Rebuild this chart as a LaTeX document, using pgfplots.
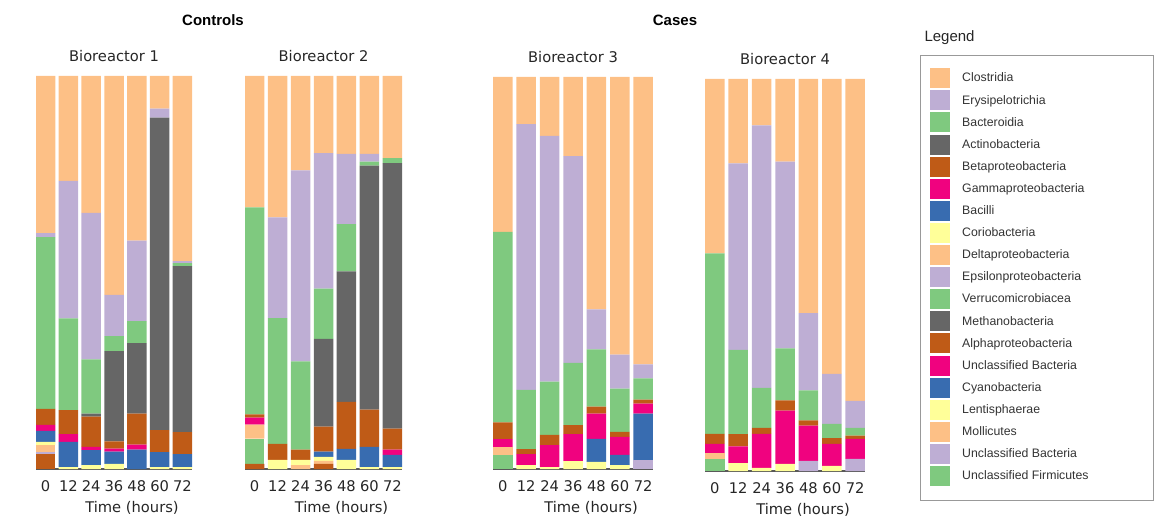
\documentclass[border=0pt]{standalone}
\usepackage{pgfplots}
\pgfplotsset{compat=1.18}
\usepackage{pgfplotstable}
\usepackage{fontspec}
\setmainfont{DejaVu Sans}
\newfontfamily\arialfont{Liberation Sans}

\definecolor{cGreen}{HTML}{7FC97F}
\definecolor{cPurple}{HTML}{BEAED4}
\definecolor{cOrange}{HTML}{FDC086}
\definecolor{cYellow}{HTML}{FFFF99}
\definecolor{cBlue}{HTML}{386CB0}
\definecolor{cMagenta}{HTML}{F0027F}
\definecolor{cBrown}{HTML}{BF5B17}
\definecolor{cGrey}{HTML}{666666}

\pgfplotscreateplotcyclelist{accentlist}{
{fill=cGreen,draw=none},{fill=cPurple,draw=none},{fill=cOrange,draw=none},{fill=cYellow,draw=none},
{fill=cBlue,draw=none},{fill=cMagenta,draw=none},{fill=cBrown,draw=none},{fill=cGrey,draw=none}}

% relative abundance (%) per time point, stacked bottom-up
\pgfplotstableread{
x UF UB Mol Len Cya Unc Alp Met Ver Eps Del Cor Bac Gam Bet Act Bct Ery Clo
0 0 0 0 0 0 0 3.8 0 0 0.5 1.8 0.8 2.8 1.5 4.1 0 43.7 1.0 40.0
1 0 0 0 0 0 0 0 0 0 0 0 0.5 6.4 2.0 6.1 0 23.3 35.0 26.7
2 0 0 0 0 0 0 0 0 0 0 0 1.0 3.8 0.8 7.7 0.8 13.8 37.3 34.8
3 0 0 0 0 0 0 0 0 0 0 0 1.3 3.1 0.8 1.8 23.0 3.8 10.5 55.7
4 0 0 0 0 0 0 0 0 0 0 0 0 4.9 1.3 7.9 17.9 5.6 20.5 41.9
5 0 0 0 0 0 0 0 0 0 0 0 0.5 3.8 0 5.6 79.5 0 2.3 8.3
6 0 0 0 0 0 0 0 0 0 0 0 0.5 3.3 0 5.6 42.2 0.8 0.5 47.1
}\dataA
\pgfplotstableread{
x UF UB Mol Len Cya Unc Alp Met Ver Eps Del Cor Bac Gam Bet Act Bct Ery Clo
0 0 0 0 0 0 0 1.3 0 6.4 0 3.6 0 0 1.8 0.8 0 52.7 0 33.4
1 0 0 0 0 0 0 0 0 0 0 0 2.3 0 0 4.1 0 32.0 25.6 36.0
2 0 0 0 0 0 0 0 0 0 0 1.0 1.3 0 0 2.6 0 22.5 48.6 24.0
3 0 0 0 0 0 0 1.3 0 0 0 0.8 1.0 1.3 0 6.4 22.3 12.8 34.5 19.6
4 0 0 0 0 0 0 0 0 0 0 0 2.3 2.8 0 12.0 33.2 12.0 17.9 19.8
5 0 0 0 0 0 0 0 0 0 0 0 0.5 5.1 0 9.5 62.1 1.0 2.0 19.8
6 0 0 0 0 0 0 0 0 0 0 0 0.5 3.1 1.3 5.4 67.5 1.3 0 20.9
}\dataB
\pgfplotstableread{
x UF UB Mol Len Cya Unc Alp Met Ver Eps Del Cor Bac Gam Bet Act Bct Ery Clo
0 0 0 0 0 0 0 0 0 3.6 0 2.0 0 0 2.0 4.3 0 48.6 0 39.5
1 0 0 0 0 0 0 0 0 0 0 0 1.0 0 2.8 1.3 0 15.1 67.8 12.0
2 0 0 0 0 0 0 0 0 0 0 0 0.5 0 5.6 2.6 0 13.6 62.7 15.0
3 0 0 0 0 0 0 0 0 0 0 0 2.0 0 6.9 2.3 0 15.9 52.7 20.2
4 0 0 0 0 0 0 0 0 0 0 0 1.8 5.9 6.4 1.8 0 14.6 10.2 59.3
5 0 0 0 0 0 0 0 0 0 0 0 1.0 2.6 4.6 1.3 0 11.0 8.7 70.8
6 0 0 0 0 0 0 0 0 0 2.3 0 0 11.8 2.6 1.0 0 5.4 3.6 73.3
}\dataC
\pgfplotstableread{
x UF UB Mol Len Cya Unc Alp Met Ver Eps Del Cor Bac Gam Bet Act Bct Ery Clo
0 0 0 0 0 0 0 0 0 3.1 0 1.5 0 0 2.3 2.6 0 46.0 0 44.5
1 0 0 0 0 0 0 0 0 0 0 0 2.0 0 4.3 3.1 0 21.5 47.6 21.5
2 0 0 0 0 0 0 0 0 0 0 0 0.8 0 8.7 1.5 0 10.2 67.0 11.8
3 0 0 0 0 0 0 0 0 0 0 0 1.8 0 13.6 2.6 0 13.3 47.6 21.1
4 0 0 0 0 0 0 0 0 0 2.6 0 0 0 9.0 1.3 0 7.7 19.7 59.7
5 0 0 0 0 0 0 0 0 0 0 0 1.3 0 5.6 1.5 0 3.6 12.8 75.2
6 0 0 0 0 0 0 0 0 0 3.1 0 0 0 5.1 0.8 0 2.0 6.9 82.1
}\dataD

\newcommand\fs{\fontsize{14.7}{17}\selectfont}
\newcommand\stackall[1]{\pgfplotsinvokeforeach{UF,UB,Mol,Len,Cya,Unc,Alp,Met,Ver,Eps,Del,Cor,Bac,Gam,Bet,Act,Bct,Ery,Clo}{\addplot table[x=x,y=##1]{#1};}}

\pgfplotsset{panel/.style={
  ybar stacked, bar width=19.5pt, scale only axis, anchor=south west,
  ymin=0, ymax=100, xmin=-0.42, xmax=6.42,
  axis x line=bottom, axis y line=none, ytick=\empty,
  x axis line style={-, draw=black!65, line width=1.5pt},
  xtick={0,...,6}, xticklabels={0,12,24,36,48,60,72}, major tick length=0pt,
  xticklabel style={font=\fs, text=black!85, yshift=-8pt},
  xlabel={Time (hours)}, ylabel={Relative abundance},
  every axis x label/.style={at={(axis description cs:0.5,0)}, anchor=center, yshift=-39pt, xshift=18pt, font=\fs, text=black!85},
  every axis y label/.style={rotate=90, anchor=center, font=\fs, text=black!85},
  title style={at={(axis description cs:0.5,1)}, anchor=center, yshift=14pt, font=\fs, text=black!85},
  cycle list name=accentlist,
}}

\begin{document}
\begin{tikzpicture}[x=1pt,y=1pt]
\useasboundingbox (0,0) rectangle (1155,523);

\begin{axis}[panel, at={(36pt,54pt)}, width=156pt, height=393pt, title={Bioreactor 1},
  ylabel style={at={(axis description cs:-0.115,0.506)}}]
\stackall{\dataA}
\end{axis}

\begin{axis}[panel, at={(245pt,54pt)}, width=157pt, height=393pt, title={Bioreactor 2},
  ylabel style={at={(axis description cs:-0.096,0.483)}}]
\stackall{\dataB}
\end{axis}

\begin{axis}[panel, at={(493pt,54pt)}, width=160pt, height=392pt, title={Bioreactor 3},
  ylabel style={at={(axis description cs:-0.125,0.478)}}]
\stackall{\dataC}
\end{axis}

\begin{axis}[panel, at={(705pt,52pt)}, width=160pt, height=392pt, title={Bioreactor 4},
  ylabel style={at={(axis description cs:-0.106,0.469)}},
  reverse legend,
  legend image code/.code={\path[#1] (0pt,-10pt) rectangle (20pt,10pt);},
  legend style={at={(axis description cs:1.40625,1.0306)}, anchor=north west,
    draw=none, fill=none, inner sep=0pt, font=\arialfont\fontsize{12.3}{14}\selectfont,
    text=black!80,
    nodes={inner xsep=0pt, inner ysep=0pt, minimum height=22.1pt},
    cells={anchor=west},
    /tikz/every odd column/.style={column sep=12pt}}]
\stackall{\dataD}
\legend{Unclassified Firmicutes, Unclassified Bacteria, Mollicutes, Lentisphaerae, Cyanobacteria, Unclassified Bacteria, Alphaproteobacteria, Methanobacteria, Verrucomicrobiacea, Epsilonproteobacteria, Deltaproteobacteria, Coriobacteria, Bacilli, Gammaproteobacteria, Betaproteobacteria, Actinobacteria, Bacteroidia, Erysipelotrichia, Clostridia}
\end{axis}

\node[font=\arialfont\bfseries\fontsize{15}{18}\selectfont] at (213pt,503pt) {Controls};
\node[font=\arialfont\bfseries\fontsize{15}{18}\selectfont] at (675pt,503pt) {Cases};
\node[anchor=west, font=\arialfont\fontsize{15}{18}\selectfont, text=black!85] at (921pt,485pt) {Legend};
\draw[black!40, line width=0.8pt] (920pt,23pt) rectangle (1153pt,468pt);
\end{tikzpicture}
\end{document}
